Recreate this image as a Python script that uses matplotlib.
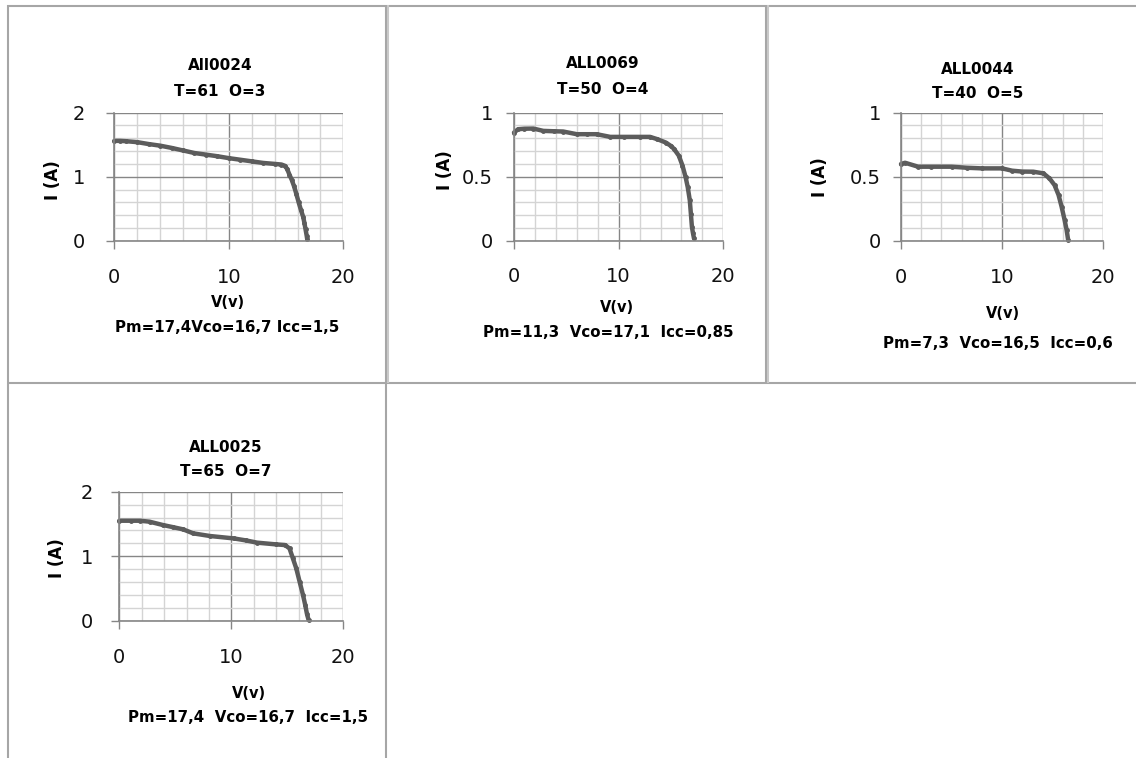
import matplotlib
matplotlib.use("Agg")
import matplotlib.pyplot as plt
from matplotlib.lines import Line2D
from matplotlib.ticker import MultipleLocator

plt.rcParams['font.family'] = ['DejaVu Sans']

# ---------------- data ----------------
names = ["All0024", "ALL0069", "ALL0044", "ALL0025"]
conds = ["T=61  O=3", "T=50  O=4", "T=40  O=5", "T=65  O=7"]
footers = ["Pm=17,4Vco=16,7 Icc=1,5", "Pm=11,3  Vco=17,1  Icc=0,85",
           "Pm=7,3  Vco=16,5  Icc=0,6", "Pm=17,4  Vco=16,7  Icc=1,5"]
x_label = "V(v)"
y_label = "I (A)"

v1 = [0, 0.5, 1, 2, 3, 4, 5, 6, 7, 8, 9, 10, 11, 12, 13, 14, 14.6, 14.9, 15.1, 15.3,
      15.5, 15.7, 15.9, 16.1, 16.3, 16.5, 16.6, 16.7, 16.8, 16.85]
i1 = [1.56, 1.56, 1.555, 1.54, 1.51, 1.485, 1.45, 1.41, 1.37, 1.345, 1.32, 1.29, 1.265,
      1.24, 1.215, 1.20, 1.19, 1.17, 1.12, 1.03, 0.95, 0.85, 0.73, 0.60, 0.48, 0.37,
      0.28, 0.18, 0.08, 0.02]

v2 = [0, 0.4, 1.0, 1.85, 2.8, 3.8, 4.7, 6.0, 7.0, 7.9, 9.2, 10.5, 12.0, 13.0, 13.7,
      14.5, 15.0, 15.3, 15.75, 16.1, 16.4, 16.6, 16.8, 16.9, 17.0, 17.1, 17.2]
i2 = [0.845, 0.871, 0.875, 0.876, 0.858, 0.855, 0.853, 0.832, 0.832, 0.832, 0.811,
      0.811, 0.811, 0.811, 0.793, 0.767, 0.74, 0.716, 0.664, 0.587, 0.496, 0.419,
      0.315, 0.212, 0.109, 0.06, 0.018]

v3 = [0, 0.4, 1.7, 3.0, 5.0, 6.5, 8.0, 10.0, 11.0, 12.0, 13.1, 14.1, 14.7, 15.2, 15.6,
      15.9, 16.2, 16.4, 16.55]
i3 = [0.599, 0.609, 0.578, 0.578, 0.578, 0.57, 0.565, 0.565, 0.547, 0.54, 0.539,
      0.526, 0.487, 0.435, 0.357, 0.266, 0.161, 0.083, 0.005]

v4 = [0, 1.0, 1.85, 2.7, 3.9, 4.8, 5.7, 6.6, 8.1, 10.2, 11.3, 12.3, 14.0, 14.8, 15.2,
      15.5, 15.8, 16.1, 16.4, 16.6, 16.75, 16.9]
i4 = [1.55, 1.55, 1.55, 1.535, 1.483, 1.45, 1.416, 1.354, 1.313, 1.276, 1.245, 1.21,
      1.183, 1.173, 1.12, 0.966, 0.811, 0.605, 0.40, 0.243, 0.11, 0.01]

voltages = [v1, v2, v3, v4]
currents = [i1, i2, i3, i4]
y_max = [2, 1, 1, 2]
y_major = [1, 0.5, 0.5, 1]
y_minor = [0.2, 0.1, 0.1, 0.2]
y_ticklabels = [["0", "1", "2"], ["0", "0.5", "1"], ["0", "0.5", "1"], ["0", "1", "2"]]
x_ticklabels = ["0", "10", "20"]

# ---------------- layout (pixels) ----------------
W, H = 1136, 758
fig = plt.figure(figsize=(W / 100, H / 100), dpi=100)

def fx(x):
    return x / W

def fy(y):
    return 1 - y / H

def add_ax(x0, x1, ytop, ybot):
    return fig.add_axes([fx(x0), fy(ybot), fx(x1) - fx(x0), (ybot - ytop) / H])

# axes boxes: (left, right, top, bottom) in pixel coords
boxes = [(114.3, 343.3, 112.7, 240.7),
         (514.0, 723.3, 112.7, 240.7),
         (901.0, 1103.0, 112.7, 240.7),
         (119.3, 343.3, 491.7, 620.7)]

# text positions
title_pos = [(220, 66, 91), (603, 64, 89), (978, 70, 93), (226, 447, 472)]
ylab_pos = [(53, 180), (445, 170), (820, 177), (57, 558)]
xlab_pos = [(228, 303), (617, 307), (1003, 313), (249, 693)]
foot_pos = [(227, 328), (608, 333), (998, 343), (248, 718)]
xtick_pad = [14, 13, 14, 14]
ytick_pad = [15, 9, 8.5, 13]

line_col = "#5c5c5c"
major_col = "#868686"
minor_col = "#d4d4d4"

for k in range(4):
    x0, x1, yt, yb = boxes[k]
    ax = add_ax(x0, x1, yt, yb)
    ax.set_xlim(0, 20)
    ax.set_ylim(0, y_max[k])
    ax.xaxis.set_major_locator(MultipleLocator(10))
    ax.xaxis.set_minor_locator(MultipleLocator(2))
    ax.yaxis.set_major_locator(MultipleLocator(y_major[k]))
    ax.yaxis.set_minor_locator(MultipleLocator(y_minor[k]))
    ax.grid(which="minor", color=minor_col, lw=1.0)
    ax.grid(which="major", color=major_col, lw=1.0)
    ax.set_axisbelow(True)
    for s in ["top", "right"]:
        ax.spines[s].set_visible(False)
    for s in ["left", "bottom"]:
        ax.spines[s].set_color(major_col)
        ax.spines[s].set_linewidth(1.2)
    ax.tick_params(which="major", length=6, width=1.0, color=major_col,
                   labelsize=14, labelcolor="#111111")
    ax.tick_params(axis="x", which="major", pad=xtick_pad[k])
    ax.tick_params(axis="y", which="major", pad=ytick_pad[k])
    ax.tick_params(which="minor", length=0)
    ax.set_xticks([0, 10, 20])
    ax.set_xticklabels(x_ticklabels)
    ax.set_yticks([0, y_major[k], y_max[k]])
    ax.set_yticklabels(y_ticklabels[k])
    ax.plot(voltages[k], currents[k], color=line_col, lw=3.2, marker="o", ms=2.5,
            solid_capstyle="round", solid_joinstyle="round", clip_on=False)

    tx, ty1, ty2 = title_pos[k]
    fig.text(fx(tx), fy(ty1), names[k], ha="center", va="center",
             fontsize=11, fontweight="bold")
    fig.text(fx(tx), fy(ty2), conds[k], ha="center", va="center",
             fontsize=11, fontweight="bold")
    lx, ly = ylab_pos[k]
    fig.text(fx(lx), fy(ly), y_label, ha="center", va="center", rotation=90,
             fontsize=12, fontweight="bold")
    xx, xy = xlab_pos[k]
    fig.text(fx(xx), fy(xy), x_label, ha="center", va="center",
             fontsize=10.5, fontweight="bold")
    px, py = foot_pos[k]
    fig.text(fx(px), fy(py), footers[k], ha="center", va="center",
             fontsize=10.8, fontweight="bold")

# ---------------- table borders ----------------
bc = "#a6a6a6"
def hline(y, xa, xb, lw=1.5, c=bc):
    fig.add_artist(Line2D([fx(xa), fx(xb)], [fy(y), fy(y)], color=c, lw=lw,
                          solid_capstyle="butt"))

def vline(x, ya, yb, lw=1.5, c=bc):
    fig.add_artist(Line2D([fx(x), fx(x)], [fy(ya), fy(yb)], color=c, lw=lw,
                          solid_capstyle="butt"))

hline(5.5, 7, 1136)
hline(383.5, 7, 1136)
vline(7.5, 5, 758)
vline(385.5, 5, 758)
vline(387.8, 5, 383.5, c="#c8c8c8")
vline(765.5, 5, 383.5)
vline(767.8, 5, 383.5, c="#c8c8c8")

fig.savefig("out.png", dpi=100)
